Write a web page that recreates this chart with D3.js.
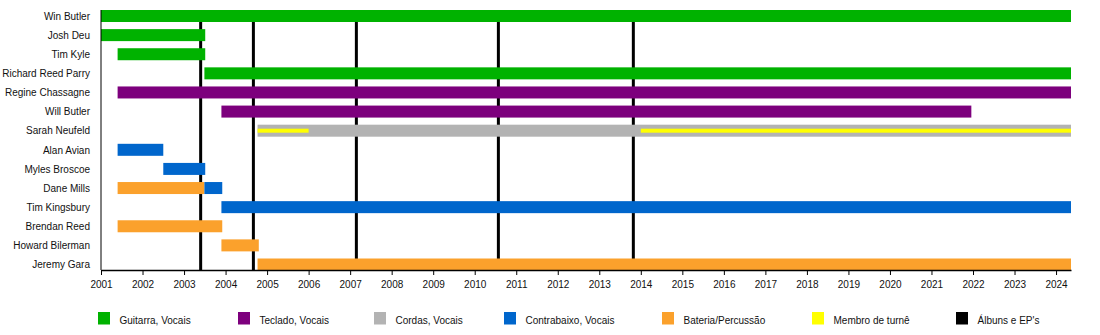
<!DOCTYPE html>
<html>
<head>
<meta charset="utf-8">
<script src="https://cdn.jsdelivr.net/npm/d3@7"></script>
<style>
  html, body { margin: 0; padding: 0; background: #fff; }
  svg { display: block; font-family: "Liberation Sans", Arial, sans-serif; }
</style>
</head>
<body>
<svg id="chart" width="1100" height="335"></svg>
<script>
// ---- data ----
const members = ["Win Butler", "Josh Deu", "Tim Kyle", "Richard Reed Parry", "Regine Chassagne",
  "Will Butler", "Sarah Neufeld", "Alan Avian", "Myles Broscoe", "Dane Mills",
  "Tim Kingsbury", "Brendan Reed", "Howard Bilerman", "Jeremy Gara"];

const roles = ["guitar", "keys", "strings", "bass", "drums", "tour", "album"];
const roleLabels = ["Guitarra, Vocais", "Teclado, Vocais", "Cordas, Vocais", "Contrabaixo, Vocais",
  "Bateria/Percussão", "Membro de turnê", "Álbuns e EP's"];
const roleColors = ["#00b200", "#7d007d", "#b3b3b3", "#0066cc", "#fba12c", "#ffff00", "#000000"];

const END = 2024.36;
// [member, role, start, end]
const bars = [
  ["Win Butler", "guitar", 2001.0, END],
  ["Josh Deu", "guitar", 2001.0, 2003.51],
  ["Tim Kyle", "guitar", 2001.4, 2003.51],
  ["Richard Reed Parry", "guitar", 2003.49, END],
  ["Regine Chassagne", "keys", 2001.4, END],
  ["Will Butler", "keys", 2003.9, 2021.96],
  ["Sarah Neufeld", "strings", 2004.77, END],
  ["Alan Avian", "bass", 2001.4, 2002.5],
  ["Myles Broscoe", "bass", 2002.5, 2003.51],
  ["Dane Mills", "drums", 2001.4, 2003.49],
  ["Dane Mills", "bass", 2003.49, 2003.92],
  ["Tim Kingsbury", "bass", 2003.9, END],
  ["Brendan Reed", "drums", 2001.4, 2003.92],
  ["Howard Bilerman", "drums", 2003.9, 2004.8],
  ["Jeremy Gara", "drums", 2004.77, END]
];
// touring periods: [member, start, end]
const tours = [
  ["Sarah Neufeld", 2004.77, 2006.0],
  ["Sarah Neufeld", 2014.0, END]
];
const albums = [2003.40, 2004.67, 2007.15, 2010.57, 2013.82];
const years = d3.range(2001, 2025);

// ---- drawing ----
const svg = d3.select("#chart");
const color = d3.scaleOrdinal().domain(roles).range(roleColors);
const x = d3.scaleLinear().domain([2001, END]).range([101, 1071]);
const y = d3.scalePoint().domain(members).range([16, 264.5]);
const barH = 12;
const axisY = 270;

// album lines (behind bars)
svg.append("g").selectAll("line").data(albums).join("line")
  .attr("x1", d => x(d)).attr("x2", d => x(d))
  .attr("y1", 10).attr("y2", axisY)
  .attr("stroke", color("album")).attr("stroke-width", 3);

// bars
svg.append("g").selectAll("rect").data(bars).join("rect")
  .attr("x", d => x(d[2]))
  .attr("width", d => x(d[3]) - x(d[2]))
  .attr("y", d => y(d[0]) - barH / 2)
  .attr("height", barH)
  .attr("fill", d => color(d[1]));

// touring stripes
svg.append("g").selectAll("rect").data(tours).join("rect")
  .attr("x", d => x(d[1]))
  .attr("width", d => x(d[2]) - x(d[1]))
  .attr("y", d => y(d[0]) - 2)
  .attr("height", 4)
  .attr("fill", color("tour"));

// member labels
svg.append("g").selectAll("text").data(members).join("text")
  .attr("x", 90).attr("y", d => y(d)).attr("dy", "0.38em")
  .attr("text-anchor", "end").attr("font-size", 10).attr("fill", "#111")
  .text(d => d);

// left line
svg.append("line").attr("x1", 101).attr("x2", 101).attr("y1", 10).attr("y2", axisY)
  .attr("stroke", "#000").attr("stroke-width", 1);

// x axis
const xAxis = d3.axisBottom(x).tickValues(years).tickFormat(d3.format("d")).tickSize(5).tickSizeOuter(0);
const gx = svg.append("g").attr("transform", `translate(0,${axisY})`).call(xAxis);
gx.select(".domain").attr("stroke", "#000").attr("stroke-width", 1.5);
gx.selectAll(".tick line").attr("stroke", "#000");
gx.selectAll(".tick text").attr("font-size", 10).attr("fill", "#111")
  .attr("font-family", "'Liberation Sans', Arial, sans-serif").attr("y", 10.5);

// legend
const legendX = [98, 238, 374, 504, 662, 812, 956];
const leg = svg.append("g").selectAll("g").data(roles).join("g")
  .attr("transform", (d, i) => `translate(${legendX[i]},312)`);
leg.append("rect").attr("width", 12).attr("height", 12.5).attr("fill", d => color(d));
leg.append("text").attr("x", 21.5).attr("y", 11.5).attr("font-size", 10).attr("fill", "#111")
  .text((d, i) => roleLabels[i]);
</script>
</body>
</html>
